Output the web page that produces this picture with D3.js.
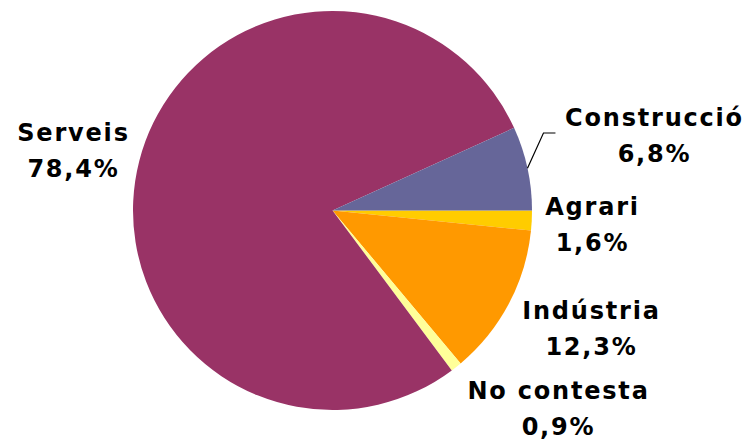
<!DOCTYPE html>
<html>
<head>
<meta charset="utf-8">
<script src="https://cdn.jsdelivr.net/npm/d3@7"></script>
<style>
  html, body { margin: 0; padding: 0; background: #fff; }
  svg { display: block; }
  .lbl { font-family: "DejaVu Sans", Verdana, sans-serif; font-weight: bold; font-size: 24px; fill: #000; letter-spacing: 1.8px; }
</style>
</head>
<body>
<svg id="chart" width="751" height="442"></svg>
<script>
// Sector shares (%), clockwise from 3 o'clock
const categories = ["Agrari", "Indústria", "No contesta", "Serveis", "Construcció"];
const values = [1.6, 12.3, 0.9, 78.4, 6.8];
const valueLabels = ["1,6%", "12,3%", "0,9%", "78,4%", "6,8%"];
const colors = ["#FFCC00", "#FF9900", "#FFFF99", "#993366", "#666699"];

// Label anchors (centre x, first-line baseline), relative to pie centre
const labelOffsets = {
  "Agrari": [260, 4],
  "Indústria": [259, 108],
  "No contesta": [226, 188],
  "Serveis": [-259, -70],
  "Construcció": [322, -85]
};
const lineGap = 36;

const svg = d3.select("#chart");
const cx = 332.5, cy = 210.5, radius = 199.5;

const pie = d3.pie()
  .sort(null)
  .value(d => d.value)
  .startAngle(Math.PI / 2)
  .endAngle(Math.PI / 2 + 2 * Math.PI);

const data = categories.map((c, i) => ({ name: c, value: values[i], label: valueLabels[i], color: colors[i] }));
const arcs = pie(data);
const arc = d3.arc().innerRadius(0).outerRadius(radius);

const g = svg.append("g").attr("transform", `translate(${cx},${cy})`);

g.selectAll("path.slice")
  .data(arcs)
  .join("path")
  .attr("class", "slice")
  .attr("d", arc)
  .attr("fill", d => d.data.color);

// Leader line for the narrow Construcció slice
const cons = arcs.find(a => a.data.name === "Construcció");
const p0 = d3.arc().innerRadius(radius).outerRadius(radius).centroid(cons);
const elbowY = -77.5;
g.append("polyline")
  .attr("points", [[p0[0], p0[1]], [p0[0] + 16, elbowY], [p0[0] + 28, elbowY]].map(p => p.join(",")).join(" "))
  .attr("fill", "none")
  .attr("stroke", "#000")
  .attr("stroke-width", 1.2);

const labels = g.selectAll("text.lbl")
  .data(arcs)
  .join("text")
  .attr("class", "lbl")
  .attr("text-anchor", "middle")
  .attr("transform", d => `translate(${labelOffsets[d.data.name][0]},${labelOffsets[d.data.name][1]})`);

labels.append("tspan").attr("x", 0).attr("y", 0).text(d => d.data.name);
labels.append("tspan").attr("x", 0).attr("y", lineGap).text(d => d.data.label);
</script>
</body>
</html>
